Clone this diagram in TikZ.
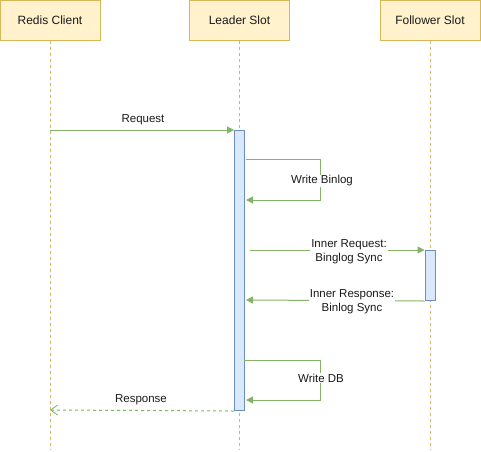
\documentclass[tikz,border=0pt]{standalone}
\usepackage{fontspec}
\setmainfont{Liberation Sans}
\usetikzlibrary{arrows.meta}
\definecolor{hfill}{HTML}{FFF2CC}
\definecolor{hdraw}{HTML}{D6B656}
\definecolor{afill}{HTML}{DAE8FC}
\definecolor{adraw}{HTML}{6C8EBF}
\definecolor{msg}{HTML}{82B366}
\definecolor{txt}{HTML}{1A1A1A}
\begin{document}
\begin{tikzpicture}[x=1pt,y=-1pt,line width=1pt,
  head/.style={draw=hdraw,fill=hfill,minimum width=100pt,minimum height=40pt,inner sep=0pt,text=txt,font=\fontsize{12}{14}\selectfont},
  life/.style={draw=hdraw,dash pattern=on 3pt off 3pt},
  act/.style={draw=adraw,fill=afill,minimum width=10pt,inner sep=0pt,anchor=north},
  msgline/.style={draw=msg,-{Triangle[length=7pt,width=7pt]}},
  reply/.style={draw=msg,dash pattern=on 3pt off 3pt,-{Straight Barb[length=7pt,width=10pt,line width=0.8pt]}},
  lbl/.style={text=txt,font=\fontsize{11.5}{14}\selectfont,inner sep=1pt,align=center},
  lblbg/.style={lbl,fill=white}]
\useasboundingbox (0,0) rectangle (481,451);
% headers
\node[head] (rc) at (50,20) {Redis Client};
\node[head] (ls) at (239.5,20) {Leader Slot};
\node[head] (fs) at (430,20) {Follower Slot};
% lifeline ends
\coordinate (rcend) at (50,450);
\coordinate (lsend) at (239.5,450);
\coordinate (fsend) at (430,450);
\draw[life] (rc.south) -- (rcend);
\draw[life] (ls.south) -- (lsend);
\draw[life] (fs.south) -- (fsend);
% activations
\node[act,minimum height=280pt] (la) at (239.5,130) {};
\node[act,minimum height=50pt] (fa) at (430,250) {};
% Request
\coordinate (reqs) at (50,130);
\draw[msgline] (reqs) -- (la.north west);
\node[lbl] (reql) at (143,120) {Request};
% Write Binlog
\coordinate (wb1) at (246,159);
\coordinate (wb2) at (320.5,159);
\coordinate (wb3) at (320.5,200);
\coordinate (wb4) at (246,200);
\draw[msgline] (wb1) -- (wb2) -- (wb3) -- (wb4);
\node[lblbg] (wbl) at (322,181) {Write Binlog};
% Inner Request
\coordinate (irs) at (250,250);
\draw[msgline] (irs) -- (fa.north west);
\node[lblbg] (irl) at (349,251.5) {Inner Request:\\Binglog Sync};
% Inner Response
\coordinate (ire) at (246,300);
\draw[msgline] (fa.south west) -- (ire);
\node[lblbg] (iresl) at (352,301.5) {Inner Response:\\Binlog Sync};
% Write DB
\coordinate (wd1) at (244,360);
\coordinate (wd2) at (320.5,360);
\coordinate (wd3) at (320.5,400);
\coordinate (wd4) at (246,400);
\draw[msgline] (wd1) -- (wd2) -- (wd3) -- (wd4);
\node[lblbg] (wdl) at (321,378) {Write DB};
% Response
\coordinate (rese) at (50,410);
\draw[reply] (la.south west) -- (rese);
\node[lbl] (resl) at (141,400) {Response};
\end{tikzpicture}
\end{document}
